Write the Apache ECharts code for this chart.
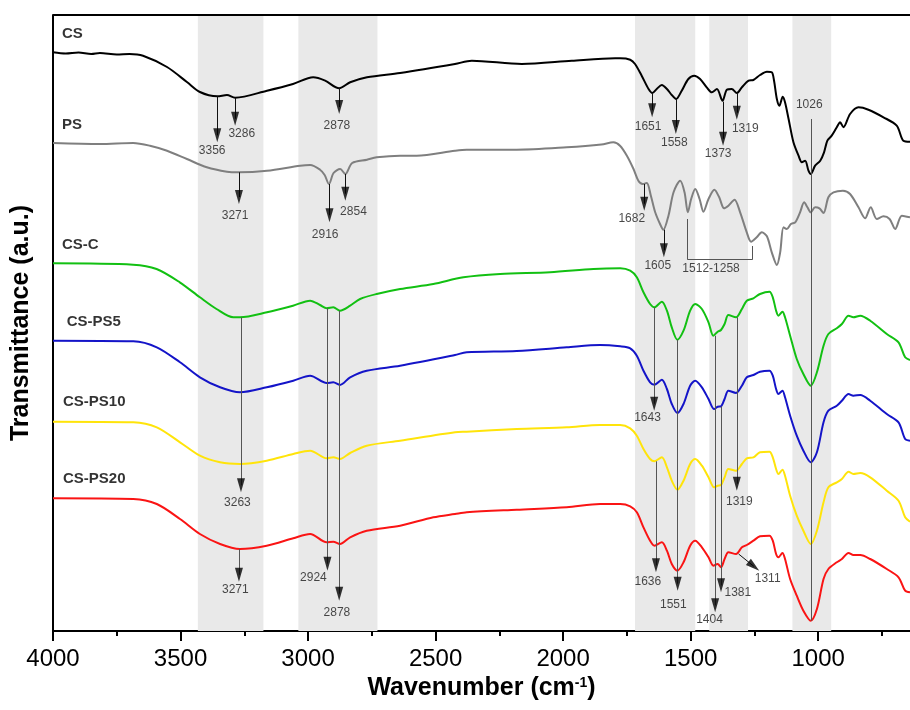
<!DOCTYPE html>
<html><head><meta charset="utf-8">
<script src="https://cdn.jsdelivr.net/npm/echarts@6/dist/echarts.min.js"></script>
<style>html,body{margin:0;padding:0;background:#fff}#c{width:910px;height:710px}</style>
</head><body><div id="c"></div>
<script>
// ---------------- DATA (wavenumber cm-1, transmittance a.u. with stacking offsets) ----------------
const csData = [[4000,578.7],[3950,577.5],[3900,578.5],[3850,577],[3816,578],[3750,576.5],[3700,577],[3647,575.3],[3553,564],[3475,549],[3424,539],[3356,534.7],[3318,536],[3286,533.3],[3161,540.3],[3059,547],[2980,553.7],[2933,550.3],[2878,542.7],[2835,548.7],[2769,553.7],[2639,558],[2424,567],[2358,570.3],[2162,567],[1966,570.3],[1796,572.7],[1776,572.7],[1737,571.3],[1718,567],[1692,555.3],[1665,542],[1650,538],[1633,542],[1613,546],[1593,542],[1574,536],[1557,532],[1535,540.3],[1509,552],[1486,555.3],[1463,552],[1437,543.7],[1417,538.7],[1397,542],[1375,530.3],[1358,541.3],[1339,542],[1319,538],[1299,543.7],[1273,550.3],[1254,551],[1228,556],[1201,559.3],[1182,558.7],[1173,550.3],[1162,532],[1152,525.3],[1139,534.3],[1130,528.7],[1116,512],[1097,488.7],[1077,475.3],[1064,468.7],[1051,470.3],[1038,460.3],[1029,457],[1012,465.3],[992,470.3],[977,478.7],[964,490.3],[947,495.3],[927,503.7],[914,508.7],[901,503.7],[875,517],[842,523.7],[803,521.3],[744,513.7],[692,505.3],[666,490.3],[640,489.3]];
const psData = [[4000,488],[3816,487],[3686,488],[3620,485.3],[3553,480.3],[3475,472],[3397,463.7],[3318,459.3],[3271,458.7],[3161,460.3],[3031,465.3],[2992,466],[2953,461.3],[2935,456],[2918,447],[2900,458],[2874,462],[2854,457],[2827,468],[2769,471.3],[2731,473.7],[2639,475.3],[2574,475.3],[2424,480.3],[2378,481.3],[2182,481.3],[1986,483.7],[1850,486.5],[1803,488.7],[1777,485.3],[1750,475.3],[1724,462],[1705,450.3],[1688,447],[1672,448],[1656,435.3],[1639,418.7],[1620,407],[1607,401.3],[1587,415.3],[1567,438.7],[1541,450.3],[1524,438.7],[1511,418.7],[1498,432],[1482,442],[1465,432],[1450,419.3],[1430,432],[1407,441.3],[1388,433.7],[1369,422.7],[1352,425.3],[1328,431.3],[1306,418.7],[1280,398.7],[1263,389.3],[1241,393.7],[1221,398.7],[1201,394.7],[1182,378.7],[1162,366],[1149,378.7],[1136,403.7],[1123,402],[1107,407],[1090,408.7],[1071,418.7],[1055,428.7],[1042,423.7],[1029,418.7],[1012,423.7],[995,422.7],[979,418],[960,433.7],[940,438.7],[903,440.3],[875,437],[842,423.7],[816,412.7],[794,423.7],[770,412],[744,414.7],[720,412],[698,402],[672,415.3],[640,413.7]];
const cscData = [[4000,367.7],[3686,366.3],[3594,362],[3503,348.7],[3424,333.7],[3359,322],[3293,313.7],[3267,313.7],[3161,318.7],[3059,325.3],[2992,330.3],[2953,326],[2927,322.7],[2901,323.7],[2875,320.3],[2835,325.3],[2796,332],[2731,337],[2639,342],[2509,347],[2391,353.7],[2247,357],[2051,358.7],[1881,362],[1776,362.7],[1737,360.3],[1711,353.7],[1685,338.7],[1659,327],[1642,323.7],[1613,329.3],[1593,320.3],[1574,303.7],[1552,291.3],[1528,300.3],[1502,320.3],[1482,327],[1456,322],[1430,308.7],[1411,295.3],[1394,299.3],[1381,301],[1367,307],[1352,316],[1322,313.7],[1299,322],[1280,330.3],[1254,332.7],[1228,337],[1191,339.3],[1178,333.7],[1165,320.3],[1156,315.3],[1140,319.3],[1130,313.7],[1110,295.3],[1084,272],[1058,257],[1029,245.3],[1005,258.7],[979,285.3],[960,297],[927,302.7],[907,307],[881,315.3],[862,313.7],[835,315.3],[796,310.3],[731,297],[685,288.7],[659,273.7],[640,271]];
const csps5Data = [[4000,290.3],[3685,289.7],[3593,283.7],[3502,268.7],[3424,253.7],[3345,243.7],[3267,238.7],[3162,243.7],[3058,250.3],[2992,255.3],[2927,248],[2901,248.7],[2875,246],[2835,253.7],[2770,260.3],[2639,265.3],[2424,276],[2378,278.7],[2182,280],[1986,283.7],[1855,286],[1776,284.7],[1737,282.7],[1711,275.3],[1685,260.3],[1659,248.7],[1642,246.3],[1613,251.3],[1593,242],[1574,227],[1552,218],[1528,227],[1502,245.3],[1482,250.3],[1456,243.7],[1430,232],[1408,222],[1394,224.3],[1381,224.7],[1367,232],[1352,240.3],[1322,238],[1299,245.3],[1280,253.7],[1254,256],[1228,259.3],[1191,260.3],[1178,255.3],[1165,242],[1156,237],[1140,240.3],[1130,233.7],[1110,215.3],[1084,195.3],[1058,180.3],[1029,168.7],[1005,178.7],[979,208.7],[960,220.3],[927,225.3],[907,230.3],[881,237],[862,235.3],[835,236],[796,230.3],[731,217],[685,208.7],[659,192],[640,190.3]];
const csps10Data = [[4000,209.3],[3685,208.7],[3593,203.7],[3502,188.7],[3424,175.3],[3345,168.7],[3267,167],[3162,170.3],[3058,177],[2992,180.3],[2927,172.7],[2901,173.7],[2875,172],[2835,178],[2770,185.3],[2639,190.3],[2424,198.7],[2378,199.3],[2182,202],[1986,203.7],[1855,206],[1776,206],[1737,202.7],[1711,195.3],[1685,182],[1659,172],[1642,169.7],[1613,173.7],[1593,163.7],[1574,150.3],[1552,141.3],[1528,150.3],[1502,167],[1482,172],[1456,165.3],[1430,153.7],[1408,143.7],[1394,145.3],[1381,146],[1367,153.7],[1352,162],[1322,160.3],[1299,167],[1280,172.7],[1254,173.7],[1228,178.7],[1191,179.3],[1178,173.7],[1165,162],[1156,157],[1140,161.3],[1130,155.3],[1110,135.3],[1084,115.3],[1058,100.3],[1029,87],[1005,100.3],[979,128.7],[960,143.7],[927,148.7],[907,152],[881,159.3],[862,157],[835,158],[796,153.7],[731,140.3],[685,130.3],[659,113.7],[640,109.3]];
const csps20Data = [[4000,132.7],[3685,132],[3593,127],[3502,112],[3424,97],[3345,87],[3267,82],[3162,85.3],[3058,92.7],[2992,97],[2927,88.7],[2901,89.3],[2875,87],[2835,93.7],[2770,100.3],[2639,105.3],[2509,113.7],[2424,117],[2378,118.7],[2182,121.3],[1986,123.7],[1855,127],[1776,127],[1737,124.7],[1711,118.7],[1685,103.7],[1659,90.3],[1642,85.3],[1613,88.7],[1593,80.3],[1574,67],[1552,60.3],[1528,68.7],[1502,85.3],[1482,90.3],[1456,83.7],[1430,73.7],[1411,65.3],[1394,67],[1381,63.7],[1367,72],[1352,78.7],[1322,77],[1299,83.7],[1280,86],[1254,90.3],[1228,94.7],[1191,95.3],[1178,90.3],[1165,77],[1156,73.7],[1140,78],[1130,72],[1110,52],[1084,35.3],[1058,20.3],[1029,10.3],[1005,22],[979,52],[960,62],[927,68.7],[907,72],[881,78],[862,76],[835,76],[796,72],[731,62],[685,53.7],[659,40.3],[640,38.7]];

const seriesNames = ['CS','PS','CS-C','CS-PS5','CS-PS10','CS-PS20'];
const seriesColors = ['#000000','#7f7f7f','#12c012','#1414c8','#ffe40a','#fa1414'];
const allData = [csData, psData, cscData, csps5Data, csps10Data, csps20Data];
// curve name tags: [text, wavenumber, value] (left edge)
const nameTags = [['CS',3965,597],['PS',3965,506],['CS-C',3965,386.3],['CS-PS5',3946,309.3],['CS-PS10',3961,229.3],['CS-PS20',3961,152]];
// highlighted regions [from, to]
const bands = [[3432,3175],[3038,2728],[1718,1482],[1427,1275],[1101,949]];
const majorTicks = [1000,1500,2000,2500,3000,3500,4000];
const minorTicks = [750,1250,1750,2250,2750,3250,3750];
// arrows: [wFrom, vFrom, wTip, vTip]
const arrowsBlack = [[3356,534.7,3356,488.7],[3286,533.3,3286,505.3],[2878,542.7,2878,517],[1651,538,1651,513.7],[1558,532,1558,497],[1373,529.3,1373,485.3],[1319,538,1319,511.3],[3271,458.7,3271,427],[2916,447,2916,408.7],[2854,457,2854,430.3],[1682,447,1682,420.3],[1605,401.3,1605,373.7],[1312,77,1231,60.3]];
const arrowsGray = [[3263,313.7,3263,138.7],[3271,82,3271,49.3],[2924,323,2924,60.3],[2878,320.3,2878,30.3],[1643,323.7,1643,220.3],[1636,169.7,1636,58.7],[1551,291.3,1551,40.3],[1404,295.3,1404,18.7],[1381,224.7,1381,38.7],[1319,313.7,1319,140.3]];
const plainLines = [[[1026,512],[1026,10.3]],[[1512,412],[1512,371.3]],[[1512,371.3],[1258,371.3]],[[1258,371.3],[1258,385]]];
// peak labels: [text, wavenumber (centre), value (centre)]
const peakLabels = [['3356',3376,480.3],['3286',3260,497],['2878',2887,505.3],['1651',1667,504.7],['1558',1564,488.7],['1373',1392,477],['1319',1286,502.7],['1026',1035,526],
['3271',3286,415.3],['2916',2933,396.7],['2854',2822,419.7],['1682',1731,412],['1605',1629,365.3],['1512-1258',1420,362.7],
['3263',3277,128.7],['3271',3285,41],['2924',2979,53.7],['2878',2887,18.7],['1643',1669,213],['1636',1668,49.7],['1551',1568,26],['1404',1426,11.3],['1381',1315,38.7],['1319',1309,129.3],['1311',1198,52.7]];

// ---------------- LAYOUT ----------------
const X_MIN = 640, X_MAX = 4000, Y_MIN = 0, Y_MAX = 616;
const G_LEFT = 53, G_TOP = 15, G_W = 857, G_H = 616;
const kx = G_W / (X_MAX - X_MIN), ky = G_H / (Y_MAX - Y_MIN);
const HEAD_W = 8, HEAD_H = 14;

function head(a) {
  const [w0, v0, w1, v1] = a;
  const dx = -(w1 - w0) * kx, dy = (v1 - v0) * ky;
  const len = Math.hypot(dx, dy), ux = dx / len, uy = dy / len;
  const half = HEAD_H / 2;
  const cw = w1 + ux * half / kx, cv = v1 - uy * half / ky;
  const rot = Math.atan2(uy, ux) * 180 / Math.PI - 90;
  return [cw, cv, rot];
}
const heads = arrowsBlack.concat(arrowsGray).map(head);

const chart = echarts.init(document.getElementById('c'), null, {renderer: 'canvas'});
const FONT = 'Liberation Sans, Arial, Helvetica, sans-serif';

const series = [];
// bands + top frame line
series.push({
  type: 'line', data: [], silent: true, z: 0,
  markArea: { silent: true, itemStyle: { color: '#e9e9e9' },
    data: bands.map(b => [{ xAxis: b[0] }, { xAxis: b[1] }]) },
  markLine: { silent: true, symbol: 'none', label: { show: false },
    lineStyle: { color: '#000', width: 2, type: 'solid' },
    data: [{ yAxis: Y_MAX }] }
});
allData.forEach((d, i) => {
  series.push({
    name: seriesNames[i], type: 'line', data: d, showSymbol: false, smooth: 0.3,
    lineStyle: { color: seriesColors[i], width: 2 }, itemStyle: { color: seriesColors[i] }, z: 2
  });
});
// annotation lines
const lineData = [];
arrowsBlack.forEach((a, i) => { const h = heads[i]; lineData.push([{ coord: [a[0], a[1]], lineStyle: { color: '#111' } }, { coord: [h[0], h[1]] }]); });
arrowsGray.forEach((a, i) => { const h = heads[arrowsBlack.length + i]; lineData.push([{ coord: [a[0], a[1]], lineStyle: { color: '#555' } }, { coord: [h[0], h[1]] }]); });
plainLines.forEach(p => lineData.push([{ coord: p[0], lineStyle: { color: '#555' } }, { coord: p[1] }]));
series.push({
  type: 'scatter', z: 5, data: heads, symbol: 'triangle', symbolSize: [HEAD_W, HEAD_H],
  symbolRotate: (v) => v[2], itemStyle: { color: '#000' }, silent: true,
  markLine: { silent: true, symbol: 'none', label: { show: false }, lineStyle: { width: 1, type: 'solid' }, data: lineData }
});
// peak labels
series.push({
  type: 'scatter', z: 6, silent: true, symbolSize: 0,
  data: peakLabels.map(p => [p[1], p[2], p[0]]),
  label: { show: true, position: 'inside', formatter: (p) => p.value[2], color: '#1a1a1a', fontSize: 12, fontFamily: FONT }
});
// series name tags
series.push({
  type: 'scatter', z: 6, silent: true, symbolSize: 0,
  data: nameTags.map(p => [p[1], p[2], p[0]]),
  label: { show: true, position: 'right', distance: 0, formatter: (p) => p.value[2], color: '#000', fontSize: 15, fontWeight: 'bold', fontFamily: FONT }
});

chart.setOption({
  animation: false,
  backgroundColor: '#fff',
  grid: { left: G_LEFT, top: G_TOP, width: G_W, height: G_H, containLabel: false },
  xAxis: [{
    type: 'value', position: 'bottom', min: X_MIN, max: X_MAX, inverse: true,
    name: 'Wavenumber (cm{sup|-1})', nameLocation: 'middle', nameGap: 37,
    nameTextStyle: { fontSize: 25, fontWeight: 'bold', color: '#000', fontFamily: FONT,
      rich: { sup: { fontSize: 14, fontWeight: 'bold', color: '#000', fontFamily: FONT, verticalAlign: 'top', padding: [0, 0, 11, 0] } } },
    axisLine: { show: true, onZero: false, lineStyle: { color: '#000', width: 2 } },
    axisTick: { show: true, length: 10, customValues: majorTicks, lineStyle: { color: '#000', width: 2 } },
    axisLabel: { show: true, customValues: majorTicks, margin: 16, fontSize: 24, color: '#000', fontFamily: FONT,
      formatter: (v) => String(Math.round(v)) },
    splitLine: { show: false }
  }, {
    type: 'value', position: 'top', offset: -G_H, min: X_MIN, max: X_MAX, inverse: true,
    axisLine: { show: false },
    axisTick: { show: true, inside: true, length: 5, customValues: minorTicks, lineStyle: { color: '#000', width: 2 } },
    axisLabel: { show: false }, splitLine: { show: false }
  }],
  yAxis: {
    type: 'value', min: Y_MIN, max: Y_MAX,
    name: 'Transmittance (a.u.)', nameLocation: 'middle', nameGap: 19,
    nameTextStyle: { fontSize: 25, fontWeight: 'bold', color: '#000', fontFamily: FONT },
    axisLine: { show: true, onZero: false, lineStyle: { color: '#000', width: 2 } },
    axisTick: { show: false }, axisLabel: { show: false }, splitLine: { show: false }
  },
  series: series
});
</script></body></html>
